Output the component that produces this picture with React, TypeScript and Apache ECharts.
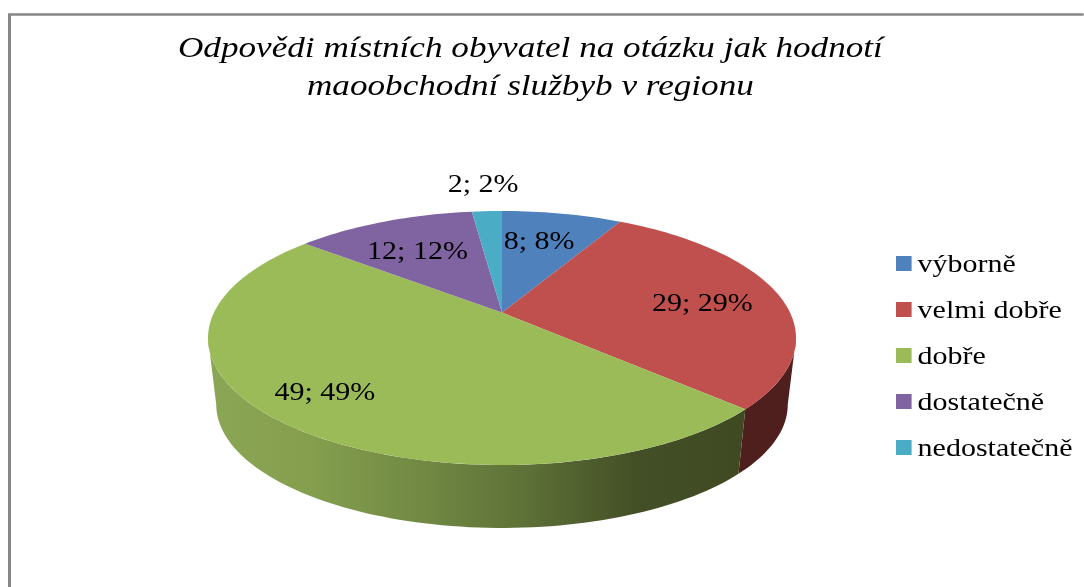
import React, { useEffect, useRef } from "react";
import * as echarts from "echarts";

const categories = ["výborně", "velmi dobře", "dobře", "dostatečně", "nedostatečně"];
const values = [8, 29, 49, 12, 2];
const titleText = "Odpovědi místních obyvatel na otázku jak hodnotí\nmaoobchodní službyb v regionu";

const topColors = ["#4f81bd", "#c0504d", "#9bbb59", "#8064a2", "#4bacc6"];
const sideColors = ["#2a4563", "#4f1f1e", "#3f4a22", "#42335a", "#275a68"];
const labelRadius = [0.7, 0.72, 0.8, 0.7, 1.32];
const labelShiftX = [-7, 0, -4, 2, 0];
const labelShiftY = [1, 3, -4, 4, -2];

// The reference is stretched horizontally: the chart is drawn narrower and widened by CSS.
const STRETCH = 1.2;
const PAGE_W = 1084;
const PAGE_H = 587;
const CX = 502 / STRETCH;
const TOP_CY = 338;
const RX = 294 / STRETCH;
const RY = 127;
const BOTTOM_CY = 404.5;
const BOTTOM_SCALE = 0.972;
const PERSPECTIVE = 0.2;

const total = values.reduce((a, b) => a + b, 0);
const fmt = (i: number) => `${values[i]}; ${Math.round((values[i] / total) * 100)}%`;

function project(deg: number, r: number, cy: number, scale: number): number[] {
  const a = (deg * Math.PI) / 180;
  const s = Math.sin(a) * r;
  const t = Math.cos(a) * r;
  const k = PERSPECTIVE;
  const d = 1 + k * t;
  const h = 1 / (1 - k * k);
  const offset = k * h;
  const nx = (Math.sqrt(1 - k * k) * s * 1) / d;
  const ny = (t / d + offset) * (1 - k * k);
  return [CX + nx * RX * scale, cy - ny * RY * scale];
}

function arc(a0: number, a1: number, cy: number, scale: number): number[][] {
  const n = Math.max(2, Math.ceil(Math.abs(a1 - a0) / 1.5));
  const pts: number[][] = [];
  for (let i = 0; i <= n; i++) pts.push(project(a0 + ((a1 - a0) * i) / n, 1, cy, scale));
  return pts;
}

function sliceRange(i: number): number[] {
  const before = values.slice(0, i).reduce((a, b) => a + b, 0);
  return [(before / total) * 360, ((before + values[i]) / total) * 360];
}

// Angles between which the wall of the cake faces the viewer.
const FRONT_START = (Math.acos(-PERSPECTIVE) * 180) / Math.PI;
const FRONT_END = 360 - FRONT_START;

function makeRender(i: number) {
  return () => {
    const [a0, a1] = sliceRange(i);
    const children: any[] = [];
    const s0 = Math.max(a0, FRONT_START);
    const s1 = Math.min(a1, FRONT_END);
    if (s1 > s0) {
      const upper = arc(s0, s1, TOP_CY, 1);
      const lower = arc(s1, s0, BOTTOM_CY, BOTTOM_SCALE);
      const fill =
        i === 2
          ? new echarts.graphic.LinearGradient(
              208 / STRETCH,
              0,
              742 / STRETCH,
              0,
              [
                { offset: 0, color: "#8ba654" },
                { offset: 0.2, color: "#849e4e" },
                { offset: 0.42, color: "#6f8742" },
                { offset: 0.6, color: "#5d7037" },
                { offset: 0.8, color: "#434f26" },
                { offset: 1, color: "#3f4a22" },
              ],
              true
            )
          : sideColors[i];
      children.push({
        type: "polygon",
        shape: { points: upper.concat(lower) },
        style: { fill },
      });
    }
    const face = [project(0, 0, TOP_CY, 1)].concat(arc(a0, a1, TOP_CY, 1));
    children.push({
      type: "polygon",
      z2: 5,
      shape: { points: face },
      style: { fill: topColors[i] },
    });
    const p = project((a0 + a1) / 2, labelRadius[i], TOP_CY, 1);
    children.push({
      type: "text",
      z2: 10,
      style: {
        text: fmt(i),
        x: p[0] + labelShiftX[i] / STRETCH,
        y: p[1] + labelShiftY[i],
        align: "center",
        verticalAlign: "middle",
        fontFamily: "Liberation Serif",
        fontSize: 25,
        fill: "#000000",
      },
    });
    return { type: "group", children };
  };
}

export default function App() {
  const ref = useRef<HTMLDivElement>(null);
  useEffect(() => {
    document.body.style.margin = "0";
    document.body.style.background = "#ffffff";
    const chart = echarts.init(ref.current!, null, { renderer: "svg" });
    chart.setOption({
      animation: false,
      backgroundColor: "#ffffff",
      title: {
        text: titleText,
        left: 437,
        top: 23,
        textAlign: "center",
        textStyle: {
          fontFamily: "Liberation Serif",
          fontStyle: "italic",
          fontWeight: "normal",
          fontSize: 29.3,
          lineHeight: 38,
          color: "#000000",
        },
      },
      legend: {
        orient: "vertical",
        left: 896 / STRETCH,
        top: 251,
        padding: 0,
        icon: "rect",
        itemWidth: 13,
        itemHeight: 15,
        itemGap: 21,
        selectedMode: false,
        data: categories,
        textStyle: {
          fontFamily: "Liberation Serif",
          fontSize: 25,
          color: "#000000",
        },
      },
      graphic: [
        {
          type: "polyline",
          silent: true,
          shape: {
            points: [
              [9.5 / STRETCH, PAGE_H],
              [9.5 / STRETCH, 14.5],
              [PAGE_W / STRETCH, 14.5],
            ],
          },
          style: { stroke: "#868686", lineWidth: 2.5, fill: "none" },
        },
      ],
      series: categories.map((name, i) => ({
        type: "custom",
        name,
        coordinateSystem: "none",
        silent: true,
        itemStyle: { color: topColors[i] },
        data: [values[i]],
        renderItem: makeRender(i),
      })),
    });
    return () => chart.dispose();
  }, []);
  return (
    <div style={{ width: PAGE_W, height: PAGE_H, overflow: "hidden", filter: "blur(0.45px)" }}>
      <div
        ref={ref}
        style={{
          width: PAGE_W / STRETCH,
          height: PAGE_H,
          transform: `scaleX(${STRETCH})`,
          transformOrigin: "0 0",
        }}
      />
    </div>
  );
}
